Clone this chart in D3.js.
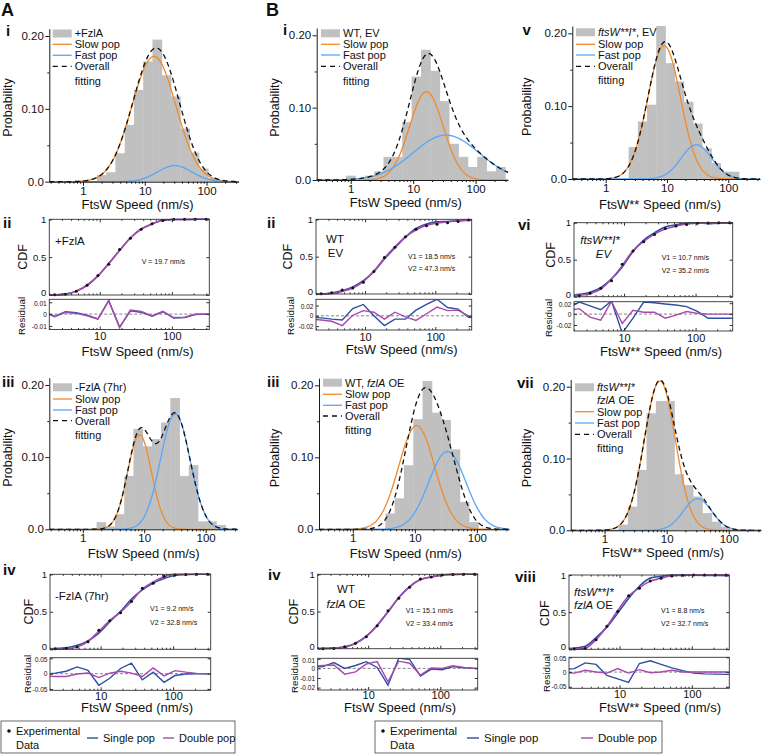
<!DOCTYPE html>
<html>
<head>
<meta charset="utf-8">
<script src="https://cdn.jsdelivr.net/npm/d3@7/dist/d3.min.js"></script>
<style>
html,body{margin:0;padding:0;background:#fff;}
svg{display:block;}
</style>
</head>
<body>
<svg id="fig" width="763" height="755"></svg>
<script>
// ======================= DATA =======================
// shared axis ticks / labels
const probTickValues = [0, 0.1, 0.2];
const probTickLabels = ["0.0", "0.10", "0.20"];
const probMinorTicks = [0.05, 0.15];
const histSpeedTicks = [1, 10, 100];
const histSpeedLabels = ["1", "10", "100"];
const cdfTickValues = [0, 0.5, 1];
const cdfTickLabels = ["0", "0.5", "1"];
const cdfSpeedTicks = [10, 100];
const cdfSpeedLabels = ["10", "100"];
const histSpeedDomain = [0.285, 330];
const cdfSpeedDomain = [2, 330];

// ---- histograms: bin centres (nm/s) and probabilities ----
const aiSpeed   = [1.995, 2.818, 3.981, 5.623, 7.943, 11.22, 15.85, 22.39, 31.62, 44.67, 63.10, 89.13, 125.9];
const aiProb    = [0.009, 0.013, 0.039, 0.078, 0.126, 0.165, 0.195, 0.146, 0.117, 0.073, 0.040, 0.018, 0.005];
const aiiiSpeed = [1.995, 2.818, 3.981, 5.623, 7.943, 11.22, 15.85, 22.39, 31.62, 44.67, 63.10, 89.13, 125.9, 177.8];
const aiiiProb  = [0.010, 0.004, 0.021, 0.074, 0.139, 0.115, 0.125, 0.148, 0.182, 0.074, 0.089, 0.011, 0.011, 0.006];
const biSpeed   = [1.000, 1.413, 1.995, 2.818, 3.981, 5.623, 7.943, 11.22, 15.85, 22.39, 31.62, 44.67, 63.10, 89.13, 125.9, 177.8, 251.2];
const biProb    = [0.006, 0.000, 0.006, 0.012, 0.032, 0.032, 0.080, 0.143, 0.180, 0.151, 0.109, 0.050, 0.032, 0.018, 0.032, 0.012, 0.018];
const biiiSpeed = [3.981, 5.623, 7.943, 11.22, 15.85, 22.39, 31.62, 44.67, 63.10, 89.13];
const biiiProb  = [0.022, 0.043, 0.089, 0.153, 0.206, 0.162, 0.152, 0.111, 0.038, 0.010];
const cvSpeed   = [2.818, 3.981, 5.623, 7.943, 11.22, 15.85, 22.39, 31.62, 44.67, 63.10, 89.13, 125.9];
const cvProb    = [0.044, 0.079, 0.102, 0.210, 0.159, 0.134, 0.106, 0.076, 0.042, 0.022, 0.010, 0.010];
const cviiSpeed = [1.995, 2.818, 3.981, 5.623, 7.943, 11.22, 15.85, 22.39, 31.62, 44.67, 63.10, 89.13];
const cviiProb  = [0.008, 0.033, 0.084, 0.163, 0.180, 0.180, 0.078, 0.063, 0.047, 0.024, 0.012, 0.005];

// ---- fitted populations: [peak probability, centre speed (nm/s), width (log10 units)] ----
const aiSlow   = [0.172, 14.1, 0.355];
const aiFast   = [0.022, 30.5, 0.28];
const aiiiSlow = [0.131, 8.4, 0.194];
const aiiiFast = [0.160, 32.0, 0.24];
const biSlow   = [0.122, 16.3, 0.27];
const biFast   = [0.062, 33.6, 0.527];
const biiiSlow = [0.144, 10.7, 0.29];
const biiiFast = [0.108, 33.4, 0.30];
const biiiOverallA = [0.160, 12.0, 0.25];
const biiiOverallB = [0.100, 30.0, 0.25];
const cvSlow   = [0.183, 9.0, 0.268];
const cvFast   = [0.047, 30.2, 0.25];
const cviiSlow = [0.208, 7.76, 0.25];
const cviiFast = [0.044, 31.3, 0.228];

// ---- CDF panels: evaluation speeds (nm/s), experimental CDF, residuals ----
const cdfSpeed = [1.679, 2.371, 3.350, 4.732, 6.683, 9.441, 13.34, 18.84, 26.61, 37.58, 53.09, 74.99, 105.9, 149.6, 211.3, 298.5, 421.7];

const aiiCdf       = [0, 0.003, 0.010, 0.050, 0.130, 0.257, 0.405, 0.600, 0.750, 0.870, 0.940, 0.985, 1, 1, 1, 1, 1];
const aiiResSingle = [0.0025, -0.002, 0.002, 0.0012, -0.001, -0.004, 0.0115, -0.011, 0.0028, 0.0016, -0.0018, 0.002, -0.0033, -0.003, -0.0003, 0, 0];
const aiiResDouble = [0.002, -0.0023, 0.0014, 0.0006, -0.0014, -0.0043, 0.0111, -0.0114, 0.0034, 0.0023, -0.0015, 0.0023, -0.0029, -0.0026, 0, 0, 0];
const aiiResTicks  = [-0.01, 0, 0.01];
const aiiResLabels = ["-0.01", "0", "0.01"];

const aivCdf       = [0.004, 0.009, 0.013, 0.031, 0.102, 0.253, 0.382, 0.489, 0.636, 0.813, 0.880, 0.973, 0.991, 0.996, 1, 1, 1];
const aivResSingle = [-0.002, 0.002, 0.008, 0.022, 0.011, -0.0375, -0.015, 0.017, 0.034, -0.020, 0.005, -0.028, -0.006, -0.001, 0, 0, 0];
const aivResDouble = [-0.007, -0.009, -0.009, -0.001, 0.002, -0.0125, 0.002, 0.008, 0.002, -0.009, 0.019, -0.007, 0.010, 0.005, 0.001, 0, 0];
const aivResTicks  = [-0.05, 0, 0.05];
const aivResLabels = ["-0.05", "0", "0.05"];

const biiCdf       = [0, 0.004, 0.018, 0.054, 0.080, 0.156, 0.300, 0.487, 0.625, 0.768, 0.866, 0.915, 0.933, 0.955, 0.969, 0.990, 1];
const biiResSingle = [-0.003, -0.004, -0.0065, -0.008, 0.014, 0.022, 0, -0.019, -0.0065, -0.0065, 0.011, 0.022, 0.032, 0.016, 0.013, -0.003, -0.004];
const biiResDouble = [-0.006, -0.008, -0.0105, -0.019, 0.001, 0.010, 0.007, -0.0065, 0.007, -0.002, -0.009, 0.004, 0.017, 0.010, 0.011, -0.0006, 0];
const biiResTicks  = [-0.02, 0, 0.02];
const biiResLabels = ["-0.02", "0", "0.02"];

const bivCdf       = [0, 0.001, 0.002, 0.027, 0.072, 0.161, 0.309, 0.511, 0.677, 0.825, 0.937, 0.964, 0.990, 0.996, 1, 1, 1];
const bivResSingle = [0.0015, 0.0018, 0.006, 0, 0.003, 0.007, 0.001, -0.0175, 0.0107, 0.0093, -0.008, -0.0007, -0.0014, 0.0018, 0.0007, 0, 0];
const bivResDouble = [0.002, 0.003, 0.0036, -0.006, -0.0036, 0.0046, 0.007, -0.014, 0.0075, 0.0054, -0.0071, 0.0004, 0, 0.0029, 0.0011, 0, 0];
const bivResTicks  = [-0.02, -0.01, 0, 0.01];
const bivResLabels = ["-0.02", "-0.01", "0", "0.01"];

const cviCdf       = [0, 0.009, 0.045, 0.113, 0.216, 0.437, 0.617, 0.743, 0.842, 0.923, 0.955, 0.977, 0.991, 0.995, 1, 1, 1];
const cviResSingle = [0.011, 0.022, 0.015, 0.008, 0.024, -0.035, -0.0075, 0.022, 0.0207, 0.0186, 0.0166, 0.0138, 0.005, -0.0076, -0.0076, -0.0076, -0.0076];
const cviResDouble = [0.007, 0.010, -0.0055, -0.011, 0.0234, -0.0172, 0.0069, 0.0034, 0.0034, -0.0076, -0.002, 0.0048, 0.0014, 0, 0, 0, 0];
const cviResTicks  = [-0.02, 0, 0.02];
const cviResLabels = ["-0.02", "0", "0.02"];

const cviiiCdf       = [0, 0.004, 0.010, 0.130, 0.310, 0.510, 0.720, 0.820, 0.920, 0.955, 0.985, 0.995, 1, 1, 1, 1, 1];
const cviiiResSingle = [0.009, 0.0116, 0.031, 0.026, -0.0116, -0.023, -0.035, 0.029, 0.038, 0.026, 0.014, 0.0047, -0.0035, -0.006, -0.007, -0.008, -0.008];
const cviiiResDouble = [-0.002, -0.0035, 0.006, 0, -0.0035, 0.012, -0.0035, 0.008, -0.0023, 0, 0.006, 0, 0, 0, 0, 0, 0];
const cviiiResTicks  = [-0.05, 0, 0.05];
const cviiiResLabels = ["-0.05", "0", "0.05"];

// ======================= DRAWING =======================
const svg = d3.select("#fig");
const FONT = '"Liberation Sans", Arial, Helvetica, sans-serif';
const COL = {bar: "#c0c0c0", slow: "#f08a2a", fast: "#58a6f6", overall: "#111111",
             single: "#2d4fa3", double: "#a84aab", axis: "#1a1a1a", box: "#333333", text: "#111111"};
const defs = svg.append("defs");
let clipCount = 0;

function gauss(p, s) {
  const z = (Math.log10(s) - Math.log10(p[1])) / p[2];
  return p[0] * Math.exp(-0.5 * z * z);
}

function txt(parent, x, y, segs, size, o = {}) {
  const t = parent.append("text").attr("x", x).attr("y", y)
    .attr("font-family", FONT).attr("font-size", size)
    .attr("text-anchor", o.anchor || "start")
    .attr("font-weight", o.bold ? "bold" : null)
    .attr("fill", COL.text);
  if (o.rotate) t.attr("transform", `rotate(-90,${x},${y})`);
  (typeof segs === "string" ? [[segs, false]] : segs)
    .forEach(s => t.append("tspan").text(s[0]).attr("font-style", s[1] ? "italic" : null));
  return t;
}

function styleAxis(sel, size, color) {
  sel.attr("font-family", FONT).attr("font-size", size);
  sel.selectAll("path.domain").attr("stroke", color || COL.axis);
  sel.selectAll(".tick line").attr("stroke", color || COL.axis);
  sel.selectAll(".tick text").attr("fill", COL.text);
}

// ---------- histogram panel ----------
function histPanel(L, speed, prob, slow, fast, overall) {
  const g = svg.append("g");
  const x = d3.scaleLog().domain(histSpeedDomain).range([L.x0, L.x1]);
  const y = d3.scaleLinear().domain([0, 0.2]).range([L.y0, L.y20]);
  const r = Math.sqrt(speed[1] / speed[0]);

  g.append("g").selectAll("rect").data(d3.zip(speed, prob)).join("rect")
    .attr("x", d => x(d[0] / r)).attr("y", d => y(d[1]))
    .attr("width", d => x(d[0] * r) - x(d[0] / r) + 0.4)
    .attr("height", d => Math.max(0, y(0) - y(d[1])))
    .attr("fill", COL.bar);

  const lo = Math.log10(histSpeedDomain[0]), hi = Math.log10(histSpeedDomain[1]);
  const grid = d3.range(401).map(i => Math.pow(10, lo + (hi - lo) * i / 400));
  const line = d3.line().x(d => x(d[0])).y(d => y(d[1]));
  const model = comps => grid.map(s => [s, d3.sum(comps, p => gauss(p, s))]);
  g.append("path").attr("d", line(model([slow]))).attr("fill", "none")
    .attr("stroke", COL.slow).attr("stroke-width", 1.3);
  g.append("path").attr("d", line(model([fast]))).attr("fill", "none")
    .attr("stroke", COL.fast).attr("stroke-width", 1.3);
  g.append("path").attr("d", line(model(overall))).attr("fill", "none")
    .attr("stroke", COL.overall).attr("stroke-width", 1.3).attr("stroke-dasharray", "5,3.5");

  // axes
  const yAx = d3.scaleLinear().domain([0, 0.21]).range([L.y0, y(0.21)]);
  const ya = g.append("g").attr("transform", `translate(${L.x0},0)`)
    .call(d3.axisLeft(yAx).tickValues(probTickValues).tickFormat((d, i) => probTickLabels[i])
      .tickSize(4).tickSizeOuter(0).tickPadding(1.5));
  styleAxis(ya, 11.5);
  const ym = g.append("g").attr("transform", `translate(${L.x0},0)`)
    .call(d3.axisLeft(yAx).tickValues(probMinorTicks).tickFormat("").tickSize(2).tickSizeOuter(0));
  ym.select(".domain").remove(); styleAxis(ym, 11.5);

  const xa = g.append("g").attr("transform", `translate(0,${L.y0})`)
    .call(d3.axisBottom(x).tickValues(histSpeedTicks).tickFormat((d, i) => histSpeedLabels[i])
      .tickSize(4).tickSizeOuter(0).tickPadding(1));
  styleAxis(xa, 11.5);
  const minor = x.ticks().filter(v => !histSpeedTicks.includes(v));
  const xm = g.append("g").attr("transform", `translate(0,${L.y0})`)
    .call(d3.axisBottom(x).tickValues(minor).tickFormat("").tickSize(2).tickSizeOuter(0));
  xm.select(".domain").remove(); styleAxis(xm, 11.5);

  txt(g, L.xlab[0], L.xlab[1], L.xtitle, 13, {anchor: "middle"});
  txt(g, L.ylab[0], L.ylab[1], "Probability", 12.5, {anchor: "middle", rotate: true});
  txt(g, L.num[1], L.num[2], L.num[0], 15, {bold: true});

  // legend
  const lx = L.lgX;
  L.lgRows.forEach((row, i) => {
    const cy = L.lgY[i];
    const kind = row[0];
    if (kind === "bar") {
      g.append("rect").attr("x", lx).attr("y", cy - 4).attr("width", 19).attr("height", 8).attr("fill", COL.bar);
    } else if (kind === "slow" || kind === "fast" || kind === "overall") {
      const ln = g.append("line").attr("x1", lx).attr("x2", lx + 19).attr("y1", cy).attr("y2", cy)
        .attr("stroke", COL[kind]).attr("stroke-width", 1.3);
      if (kind === "overall") ln.attr("stroke-dasharray", "5,4");
    }
    txt(g, lx + 22, cy + 3.9, row[1], 11);
  });
}

// ---------- CDF + residual panel ----------
function cdfPanel(L, cdf, resSingle, resDouble, resTicks, resLabels) {
  const g = svg.append("g");
  const x = d3.scaleLog().domain(cdfSpeedDomain).range([L.x0, L.x1]);
  const y = d3.scaleLinear().domain([0, 1]).range([L.yb, L.yt]);
  const yr = d3.scaleLinear().domain(L.resDomain).range([L.rb, L.rt]);
  const idA = "clipA" + clipCount, idB = "clipB" + clipCount; clipCount++;
  defs.append("clipPath").attr("id", idA).append("rect")
    .attr("x", L.x0).attr("y", L.yt - 2).attr("width", L.x1 - L.x0).attr("height", L.yb - L.yt + 4);
  defs.append("clipPath").attr("id", idB).append("rect")
    .attr("x", L.x0).attr("y", L.rt).attr("width", L.x1 - L.x0).attr("height", L.rb - L.rt);

  const fitSingle = cdfSpeed.map((s, i) => [s, cdf[i] + resSingle[i]]);
  const fitDouble = cdfSpeed.map((s, i) => [s, cdf[i] + resDouble[i]]);
  const cl = d3.line().x(d => x(d[0])).y(d => y(d[1])).curve(d3.curveMonotoneX);
  const cg = g.append("g").attr("clip-path", `url(#${idA})`);
  cg.append("path").attr("d", cl(fitSingle)).attr("fill", "none").attr("stroke", COL.single).attr("stroke-width", 1.6);
  cg.append("path").attr("d", cl(fitDouble)).attr("fill", "none").attr("stroke", COL.double).attr("stroke-width", 1.6);
  cg.selectAll("circle").data(d3.zip(cdfSpeed, cdf)).join("circle")
    .attr("cx", d => x(d[0])).attr("cy", d => y(d[1])).attr("r", 1.5).attr("fill", "#111");

  const rg = g.append("g").attr("clip-path", `url(#${idB})`);
  rg.append("line").attr("x1", L.x0).attr("x2", L.x1).attr("y1", yr(0)).attr("y2", yr(0))
    .attr("stroke", "#777").attr("stroke-width", 0.9).attr("stroke-dasharray", "3,2");
  const rl = d3.line().x(d => x(d[0])).y(d => yr(d[1]));
  rg.append("path").attr("d", rl(d3.zip(cdfSpeed, resSingle))).attr("fill", "none")
    .attr("stroke", COL.single).attr("stroke-width", 1.4);
  rg.append("path").attr("d", rl(d3.zip(cdfSpeed, resDouble))).attr("fill", "none")
    .attr("stroke", COL.double).attr("stroke-width", 1.4);

  // boxes
  [[L.yt, L.yb], [L.rt, L.rb]].forEach(b => {
    g.append("rect").attr("x", L.x0).attr("y", b[0]).attr("width", L.x1 - L.x0).attr("height", b[1] - b[0])
      .attr("fill", "none").attr("stroke", COL.box).attr("stroke-width", 0.9);
  });

  const minor = x.ticks().filter(v => !cdfSpeedTicks.includes(v));
  const inside = (sel) => { sel.select(".domain").remove(); styleAxis(sel, 9.5, COL.box); return sel; };
  // CDF box ticks
  const ca = inside(g.append("g").attr("transform", `translate(${L.x0},0)`)
    .call(d3.axisLeft(y).tickValues(cdfTickValues).tickFormat((d, i) => cdfTickLabels[i]).tickSize(-3).tickPadding(3)));
  ca.selectAll(".tick text").filter(d => d === 0).attr("dy", "0.05em");
  inside(g.append("g").attr("transform", `translate(${L.x1},0)`)
    .call(d3.axisRight(y).tickValues(cdfTickValues).tickFormat("").tickSize(-3)));
  [[L.yb, d3.axisBottom], [L.yt, d3.axisTop]].forEach(([yy, ax]) => {
    inside(g.append("g").attr("transform", `translate(0,${yy})`).call(ax(x).tickValues(cdfSpeedTicks).tickFormat("").tickSize(-3)));
    inside(g.append("g").attr("transform", `translate(0,${yy})`).call(ax(x).tickValues(minor).tickFormat("").tickSize(-1.6)));
  });
  // residual box ticks
  const ra = inside(g.append("g").attr("transform", `translate(${L.x0},0)`)
    .call(d3.axisLeft(yr).tickValues(resTicks).tickFormat((d, i) => resLabels[i]).tickSize(-3).tickPadding(2.5)));
  ra.attr("font-size", 6.6);
  ra.selectAll(".tick text").filter(d => d === resTicks[resTicks.length - 1]).attr("dy", "0.5em");
  inside(g.append("g").attr("transform", `translate(${L.x1},0)`)
    .call(d3.axisRight(yr).tickValues(resTicks).tickFormat("").tickSize(-3)));
  const xb = inside(g.append("g").attr("transform", `translate(0,${L.rb})`)
    .call(d3.axisBottom(x).tickValues(cdfSpeedTicks).tickFormat((d, i) => cdfSpeedLabels[i]).tickSize(-3).tickPadding(L.xPad)));
  xb.attr("font-size", 11);
  inside(g.append("g").attr("transform", `translate(0,${L.rb})`)
    .call(d3.axisBottom(x).tickValues(minor).tickFormat("").tickSize(-1.6)));

  txt(g, L.cdfLab[0], L.cdfLab[1], "CDF", 12.5, {anchor: "middle", rotate: true});
  txt(g, L.resLab[0], L.resLab[1], "Residual", 9.8, {anchor: "middle", rotate: true});
  txt(g, L.xlab[0], L.xlab[1], L.xtitle, 13, {anchor: "middle"});
  txt(g, L.num[1], L.num[2], L.num[0], 15, {bold: true});
  L.notes.forEach(n => txt(g, n[0], n[1], n[2], n[3], {anchor: n[4] || "start"}));
}

// ---------- layouts ----------
const legendRows = (first) => first.concat([["slow", "Slow pop"], ["fast", "Fast pop"], ["overall", "Overall"], ["", "fitting"]]);
const xtA = "FtsW Speed (nm/s)", xtC = "FtsW** Speed (nm/s)";
const ftsWI = ["ftsW**I*", true];

histPanel({x0: 49.3, x1: 238.6, y0: 181.7, y20: 36, xlab: [137.5, 208.7], ylab: [11.5, 107.5], xtitle: xtA,
  num: ["i", 6, 36], lgX: 52.7, lgY: [33.5, 44.3, 55.3, 66.3, 81],
  lgRows: legendRows([["bar", "+FzlA"]])}, aiSpeed, aiProb, aiSlow, aiFast, [aiSlow, aiFast]);
histPanel({x0: 49.3, x1: 237.5, y0: 529.3, y20: 385, xlab: [143.7, 557.8], ylab: [11.5, 457.5], xtitle: xtA,
  num: ["iii", 2, 387], lgX: 53, lgY: [387.3, 399, 410, 420.7, 435],
  lgRows: legendRows([["bar", "-FzlA (7hr)"]])}, aiiiSpeed, aiiiProb, aiiiSlow, aiiiFast, [aiiiSlow, aiiiFast]);
histPanel({x0: 316.7, x1: 508, y0: 180, y20: 35.3, xlab: [405.8, 207], ylab: [279, 107.5], xtitle: xtA,
  num: ["i", 283, 35], lgX: 321, lgY: [33.3, 44.3, 55, 66.3, 81],
  lgRows: legendRows([["bar", "WT, EV"]])}, biSpeed, biProb, biSlow, biFast, [biSlow, biFast]);
histPanel({x0: 319, x1: 509, y0: 529.3, y20: 385.3, xlab: [405.8, 557.8], ylab: [279, 458], xtitle: xtA,
  num: ["iii", 267, 386.5], lgX: 323, lgY: [382.7, 394.3, 405.3, 416, 430],
  lgRows: legendRows([["bar", [["WT, ", false], ["fzlA", true], [" OE", false]]]])},
  biiiSpeed, biiiProb, biiiSlow, biiiFast, [biiiOverallA, biiiOverallB]);
histPanel({x0: 572.3, x1: 760, y0: 179, y20: 33.3, xlab: [660, 208.7], ylab: [531, 106.7], xtitle: xtC,
  num: ["v", 522.5, 35], lgX: 576, lgY: [32.3, 44.3, 55, 66.3, 80],
  lgRows: legendRows([["bar", [ftsWI, [", EV", false]]]])}, cvSpeed, cvProb, cvSlow, cvFast, [cvSlow, cvFast]);
histPanel({x0: 570.7, x1: 761, y0: 530.3, y20: 386.7, xlab: [663, 557], ylab: [531, 458], xtitle: xtC,
  num: ["vii", 517, 388], lgX: 575, lgY: [387.3, 400.5, 411.7, 423, 434.3, 448.3],
  lgRows: legendRows([["bar", [ftsWI]], ["", [["fzlA", true], [" OE", false]]]])},
  cviiSpeed, cviiProb, cviiSlow, cviiFast, [cviiSlow, cviiFast]);

cdfPanel({x0: 49.3, x1: 209.3, yt: 219.3, yb: 295, rt: 299.3, rb: 329.5, resDomain: [-0.013, 0.0125], xPad: 3,
  cdfLab: [26.7, 257], resLab: [25, 316], xlab: [137.5, 356.3], xtitle: xtA, num: ["ii", 3, 228],
  notes: [[55, 245.3, "+FzlA", 11.5], [141.7, 263.5, "V = 19.7 nm/s", 7]]},
  aiiCdf, aiiResSingle, aiiResDouble, aiiResTicks, aiiResLabels);
cdfPanel({x0: 50, x1: 210.7, yt: 574.3, yb: 649.3, rt: 657.7, rb: 690.3, resDomain: [-0.054, 0.052], xPad: 1.5,
  cdfLab: [33, 611.7], resLab: [30.5, 674], xlab: [137, 712.3], xtitle: xtA, num: ["iv", 3, 574.5],
  notes: [[55, 600.3, "-FzlA (7hr)", 11.5], [150, 611, "V1 = 9.2 nm/s", 7], [150, 625.4, "V2 = 32.8 nm/s", 7]]},
  aivCdf, aivResSingle, aivResDouble, aivResTicks, aivResLabels);
cdfPanel({x0: 316, x1: 471.7, yt: 219.3, yb: 294, rt: 299.3, rb: 330, resDomain: [-0.0275, 0.032], xPad: 3,
  cdfLab: [291.7, 256.7], resLab: [294, 316], xlab: [401.7, 354], xtitle: xtA, num: ["ii", 267, 228],
  notes: [[335, 242.6, "WT", 11.5, "middle"], [335.5, 256.6, "EV", 11.5, "middle"],
          [408, 258.7, "V1 = 18.5 nm/s", 7], [408, 271, "V2 = 47.3 nm/s", 7]]},
  biiCdf, biiResSingle, biiResDouble, biiResTicks, biiResLabels);
cdfPanel({x0: 317.7, x1: 477.7, yt: 574.3, yb: 648.7, rt: 658.3, rb: 690, resDomain: [-0.0225, 0.0105], xPad: 1.5,
  cdfLab: [298, 611.7], resLab: [297.5, 674], xlab: [400, 712.3], xtitle: xtA, num: ["iv", 268, 580],
  notes: [[346, 592.6, "WT", 11.5, "middle"], [346, 607.6, [["fzlA", true], [" OE", false]], 11.5, "middle"],
          [405.7, 612.7, "V1 = 15.1 nm/s", 7], [405.7, 626, "V2 = 33.4 nm/s", 7]]},
  bivCdf, bivResSingle, bivResDouble, bivResTicks, bivResLabels);
cdfPanel({x0: 574, x1: 732.7, yt: 222.7, yb: 296.7, rt: 301.7, rb: 331, resDomain: [-0.031, 0.0227], xPad: 3,
  cdfLab: [555, 255], resLab: [552, 318], xlab: [661, 356.3], xtitle: xtC, num: ["vi", 518, 230],
  notes: [[600, 244.3, [ftsWI], 11.5, "middle"], [603.5, 258.3, [["EV", true]], 11.5, "middle"],
          [661.7, 260, "V1 = 10.7 nm/s", 7], [661.7, 272.7, "V2 = 35.2 nm/s", 7]]},
  cviCdf, cviResSingle, cviResDouble, cviResTicks, cviResLabels);
cdfPanel({x0: 569, x1: 729.3, yt: 575, yb: 649.3, rt: 657.3, rb: 688.3, resDomain: [-0.055, 0.05], xPad: 2,
  cdfLab: [549, 613.3], resLab: [549.5, 673], xlab: [660, 712.3], xtitle: xtC, num: ["viii", 515, 581.5],
  notes: [[574, 596, [ftsWI], 11.5], [574, 609.3, [["fzlA", true], [" OE", false]], 11.5],
          [661, 612.7, "V1 = 8.8 nm/s", 7], [661, 626, "V2 = 32.7 nm/s", 7]]},
  cviiiCdf, cviiiResSingle, cviiiResDouble, cviiiResTicks, cviiiResLabels);

// panel letters
txt(svg, 1, 16, "A", 18, {bold: true});
txt(svg, 266, 16, "B", 18, {bold: true});

// bottom legends
function bottomLegend(L) {
  const g = svg.append("g");
  g.append("rect").attr("x", L.x).attr("y", 721).attr("width", L.w).attr("height", 32)
    .attr("fill", "#fff").attr("stroke", "#444").attr("stroke-width", 0.8);
  g.append("circle").attr("cx", L.x + 8).attr("cy", 731).attr("r", 1.8).attr("fill", "#111");
  txt(g, L.x + 15, 735, "Experimental", L.fs);
  txt(g, L.x + 15, 749, "Data", L.fs);
  g.append("line").attr("x1", L.x + L.s).attr("x2", L.x + L.s + L.ls).attr("y1", 738).attr("y2", 738)
    .attr("stroke", COL.single).attr("stroke-width", 1.4);
  txt(g, L.x + L.s + L.ls + 5, 742, "Single pop", L.fs);
  g.append("line").attr("x1", L.x + L.d).attr("x2", L.x + L.d + L.ls).attr("y1", 738).attr("y2", 738)
    .attr("stroke", COL.double).attr("stroke-width", 1.4);
  txt(g, L.x + L.d + L.ls + 5, 742, "Double pop", L.fs);
}
bottomLegend({x: 1, w: 234, s: 86, d: 162, ls: 11, fs: 11});
bottomLegend({x: 375, w: 287, s: 92, d: 206, ls: 12, fs: 11.5});
</script>
</body>
</html>
